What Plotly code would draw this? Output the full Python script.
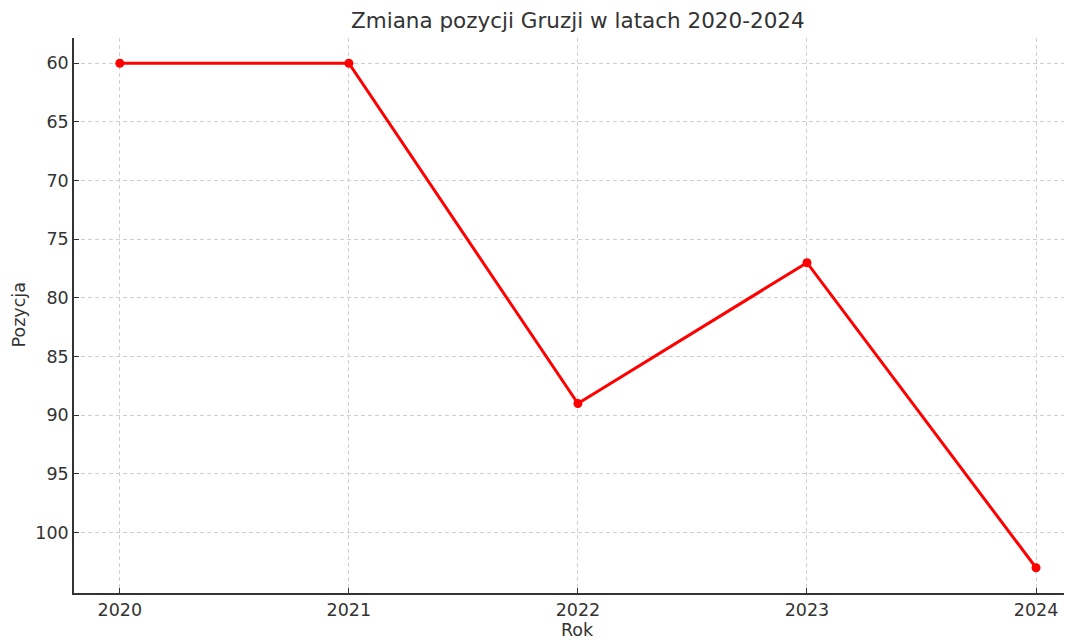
import plotly.graph_objects as go

years = [2020, 2021, 2022, 2023, 2024]
positions = [60, 60, 89, 77, 103]
y_ticks = [60, 65, 70, 75, 80, 85, 90, 95, 100]

font_color = "#333333"
fig = go.Figure()
fig.add_trace(go.Scatter(
    x=years, y=positions, mode="lines+markers",
    line=dict(color="#ff0000", width=3),
    marker=dict(color="#ff0000", size=9),
    cliponaxis=False,
))

# page body has an 8px margin, so the figure is sized to fill the visible window
fig.update_layout(
    width=1064, height=633,
    margin=dict(l=66, r=0, t=30, b=48, autoexpand=False),
    paper_bgcolor="white", plot_bgcolor="white",
    font=dict(family="DejaVu Sans", color=font_color, size=17.5),
    showlegend=False,
    annotations=[
        dict(text="Zmiana pozycji Gruzji w latach 2020-2024", xref="paper", yref="paper",
             x=0.505, y=1, yshift=18, yanchor="middle", showarrow=False,
             font=dict(size=21.5, color=font_color)),
        dict(text="Rok", xref="paper", yref="paper", x=0.505, y=0, yshift=-37,
             yanchor="middle", showarrow=False, font=dict(size=17.5, color=font_color)),
        dict(text="Pozycja", xref="paper", yref="paper", x=0, xshift=-56, y=0.5,
             xanchor="center", yanchor="middle", textangle=-90, showarrow=False,
             font=dict(size=17.5, color=font_color)),
    ],
)
fig.update_xaxes(
    range=[2019.8, 2024.157], tickvals=years, ticktext=[str(y) for y in years],
    showline=True, linecolor="#333333", linewidth=1.5,
    ticks="inside", ticklen=5, tickcolor="#333333",
    showgrid=True, gridcolor="#d0d0d0", griddash="4px,3px", gridwidth=1,
    zeroline=False, automargin=False,
)
fig.update_yaxes(
    range=[105.15, 57.85], tickvals=y_ticks,
    showline=True, linecolor="#333333", linewidth=1.5,
    ticks="inside", ticklen=5, tickcolor="#333333",
    showgrid=True, gridcolor="#d0d0d0", griddash="4px,3px", gridwidth=1,
    zeroline=False, automargin=False,
)
fig.write_html("out.html")
